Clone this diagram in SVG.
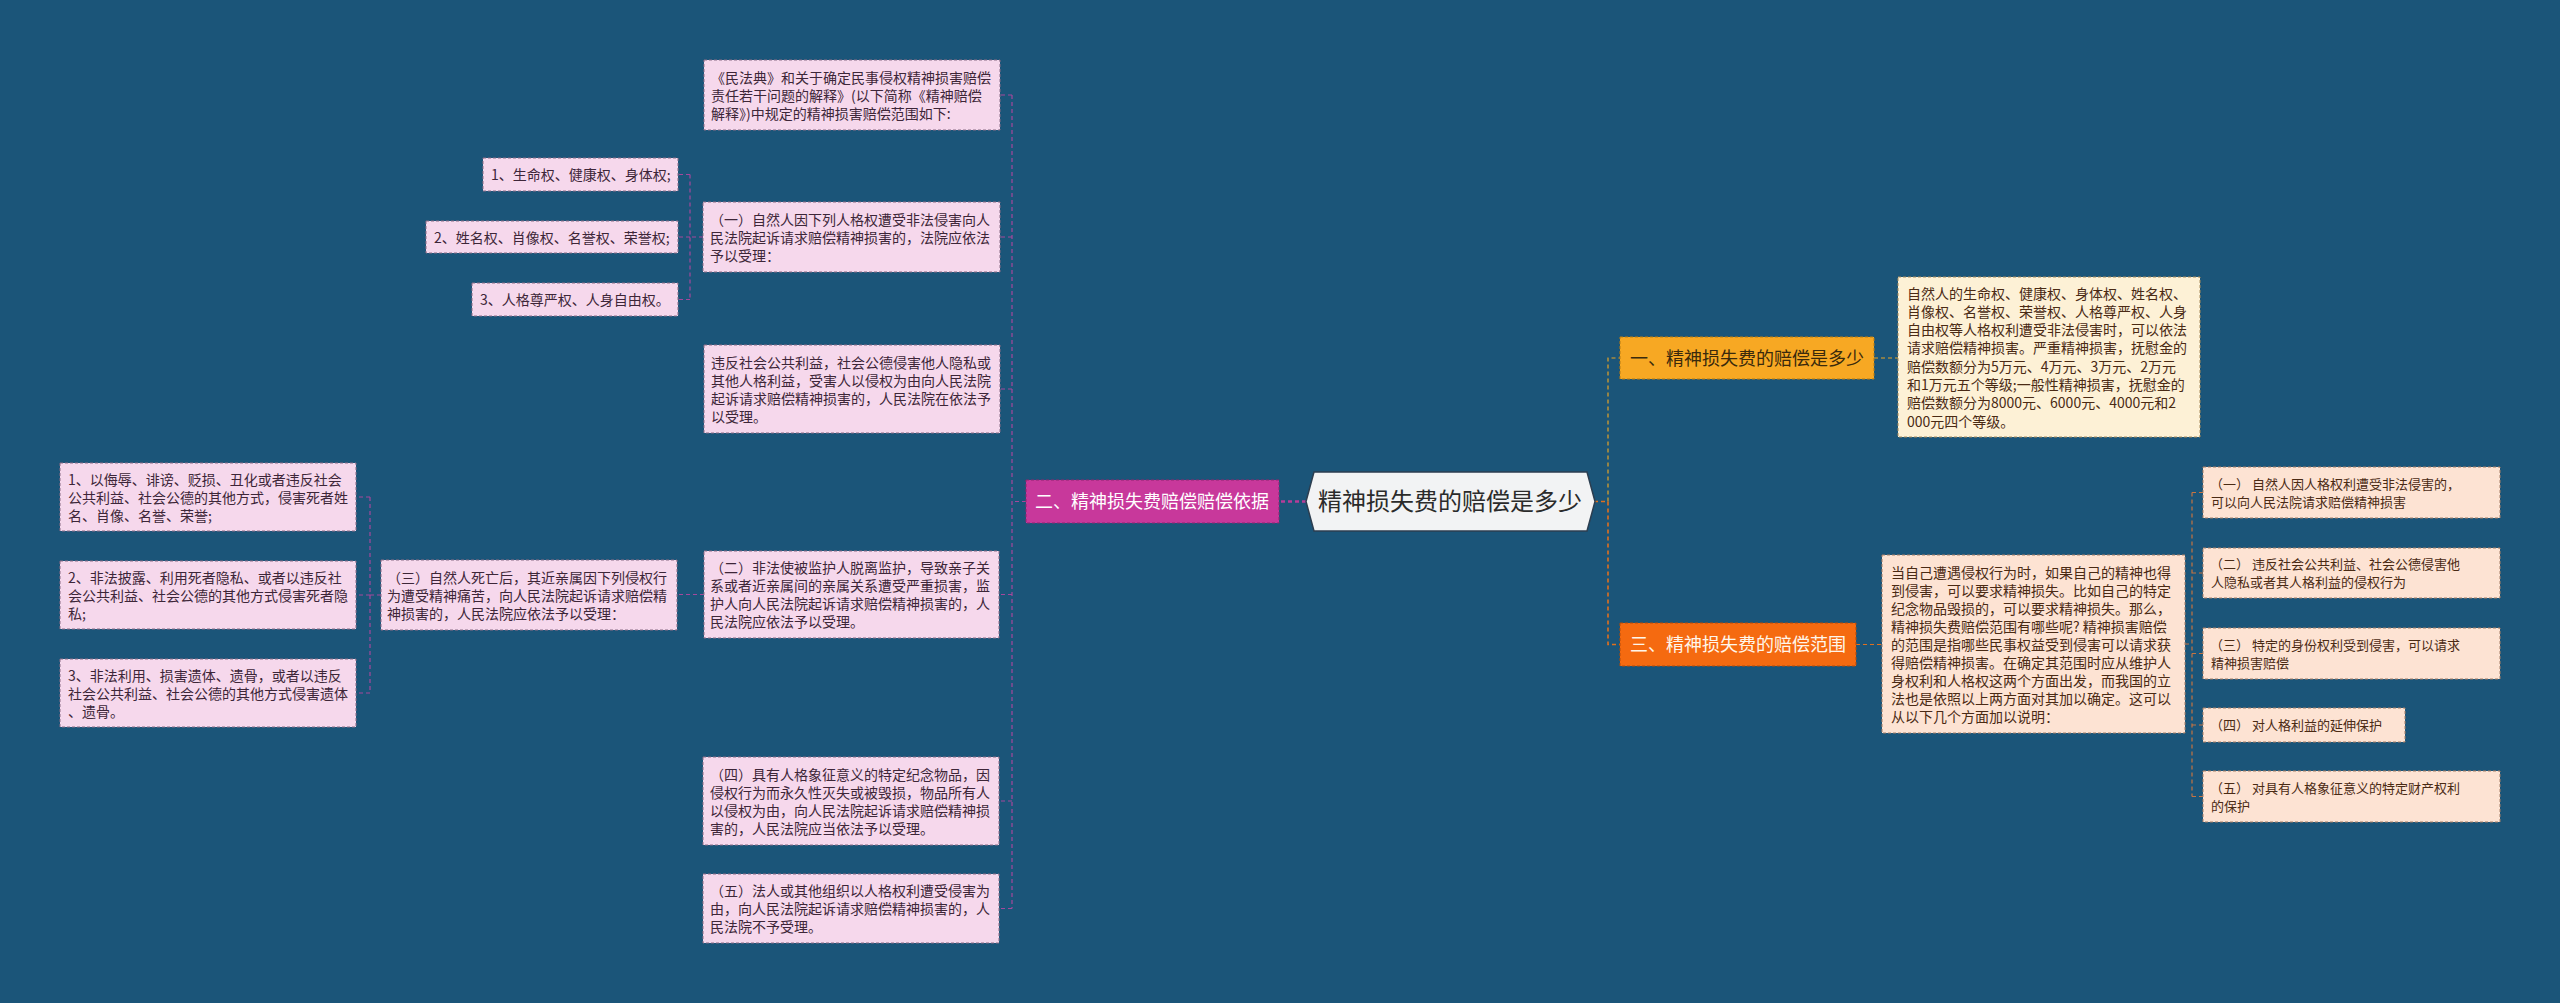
<svg xmlns="http://www.w3.org/2000/svg" width="2560" height="1003" viewBox="0 0 2560 1003">
<style>
text{font-family:"Noto Sans CJK SC","Noto Sans",sans-serif;}
.pk{fill:#f6d8ec;stroke:#8a6c86;stroke-width:1;stroke-dasharray:3 2;}
.cr{fill:#fdf1d6;stroke:#a88c5c;stroke-width:1;stroke-dasharray:3 2;}
.pc{fill:#fde3d3;stroke:#a67e66;stroke-width:1;stroke-dasharray:3 2;}
.tp{font-size:14px;fill:#3d2638;}
.tb{font-size:14px;fill:#4a2a14;}
.ti{font-size:13px;fill:#4a2a14;}
.lp{fill:none;stroke:#a5489c;stroke-width:1.2;stroke-dasharray:4 3;}
.la{fill:none;stroke:#e7a427;stroke-width:1.2;stroke-dasharray:4 3;}
.lo{fill:none;stroke:#e0701e;stroke-width:1.2;stroke-dasharray:4 3;}
.lb{fill:none;stroke:#c57442;stroke-width:1.2;stroke-dasharray:4 3;}
</style>
<rect x="0" y="0" width="2560" height="1003" fill="#1b5579"/>
<g id="connectors">
<path class="lp" d="M1306,501.5 H1279" style="stroke-width:2.5;stroke:#b53d99"/>
<path class="lp" d="M1026,501.5 H1012 M1012,95 V908.5 M1012,95 H1000 M1012,237 H1000 M1012,389 H1000 M1012,594.5 H677 M1012,801 H999 M1012,908.5 H999"/>
<path class="lp" d="M703,237 H690 M690,174.5 V299.5 M690,174.5 H678 M690,237 H678 M690,299.5 H678"/>
<path class="lp" d="M381,595 H370 M370,497 V693 M370,497 H356 M370,595 H356 M370,693 H356"/>
<path class="la" d="M1594,501.5 H1608 V358 H1620"/>
<path class="lo" d="M1594,501.5 H1608 V644.5 H1620" style="stroke-width:1.6"/>
<path class="la" d="M1874,358 H1898"/>
<path class="lo" d="M1856,644.5 H1882"/>
<path class="lb" d="M2185,644 H2192 M2192,492.5 V796.5 M2192,492.5 H2203 M2192,573 H2203 M2192,653.5 H2203 M2192,725 H2203 M2192,796.5 H2203"/>
</g>
<g id="center">
<polygon points="1306,501.5 1314,472 1587,472 1595,501.5 1587,531 1314,531" fill="#f2f3f4" stroke="#2c3e50" stroke-width="1.5"/>
<text x="1450" y="510" text-anchor="middle" style="font-size:24px;fill:#2b2b2b">精神损失费的赔偿是多少</text>
</g>
<g id="b2">
<rect x="1026" y="480" width="253" height="43" fill="#c8389b" stroke="#8f2570" stroke-dasharray="3 2"/>
<text x="1035" y="508" style="font-size:18px;fill:#ffffff">二、精神损失费赔偿赔偿依据</text>
</g>
<g id="b1">
<rect x="1620" y="337" width="254" height="42" fill="#f7a823" stroke="#b97c12" stroke-dasharray="3 2"/>
<text x="1630" y="364.5" style="font-size:18px;fill:#3a2a0c">一、精神损失费的赔偿是多少</text>
</g>
<g id="b3">
<rect x="1620" y="623" width="236" height="43" fill="#f56a10" stroke="#b54a08" stroke-dasharray="3 2"/>
<text x="1630" y="651" style="font-size:18px;fill:#fff6ea">三、精神损失费的赔偿范围</text>
</g>
<g id="n-top">
<rect class="pk" x="704" y="60" width="296" height="70"/>
<text class="tp" x="711" y="83"><tspan x="711">《民法典》和关于确定民事侵权精神损害赔偿</tspan><tspan x="711" dy="18">责任若干问题的解释》(以下简称《精神赔偿</tspan><tspan x="711" dy="18">解释》)中规定的精神损害赔偿范围如下:</tspan></text>
</g>
<g id="n-i1">
<rect class="pk" x="483" y="158" width="195" height="33"/>
<text class="tp" x="491" y="180">1、生命权、健康权、身体权;</text>
</g>
<g id="n-i2">
<rect class="pk" x="426" y="221" width="252" height="32"/>
<text class="tp" x="434" y="242.5">2、姓名权、肖像权、名誉权、荣誉权;</text>
</g>
<g id="n-i3">
<rect class="pk" x="472" y="283" width="206" height="33"/>
<text class="tp" x="480" y="305">3、人格尊严权、人身自由权。</text>
</g>
<g id="n-1">
<rect class="pk" x="703" y="202" width="297" height="70"/>
<text class="tp" x="710" y="224.5"><tspan x="710">（一）自然人因下列人格权遭受非法侵害向人</tspan><tspan x="710" dy="18">民法院起诉请求赔偿精神损害的，法院应依法</tspan><tspan x="710" dy="18">予以受理：</tspan></text>
</g>
<g id="n-v">
<rect class="pk" x="704" y="345" width="296" height="88"/>
<text class="tp" x="711" y="367.5"><tspan x="711">违反社会公共利益，社会公德侵害他人隐私或</tspan><tspan x="711" dy="18">其他人格利益，受害人以侵权为由向人民法院</tspan><tspan x="711" dy="18">起诉请求赔偿精神损害的，人民法院在依法予</tspan><tspan x="711" dy="18">以受理。</tspan></text>
</g>
<g id="n-l1">
<rect class="pk" x="60" y="463" width="296" height="68"/>
<text class="tp" x="68" y="484.5"><tspan x="68">1、以侮辱、诽谤、贬损、丑化或者违反社会</tspan><tspan x="68" dy="18">公共利益、社会公德的其他方式，侵害死者姓</tspan><tspan x="68" dy="18">名、肖像、名誉、荣誉;</tspan></text>
</g>
<g id="n-l2">
<rect class="pk" x="60" y="561" width="296" height="68"/>
<text class="tp" x="68" y="582.5"><tspan x="68">2、非法披露、利用死者隐私、或者以违反社</tspan><tspan x="68" dy="18">会公共利益、社会公德的其他方式侵害死者隐</tspan><tspan x="68" dy="18">私;</tspan></text>
</g>
<g id="n-l3">
<rect class="pk" x="60" y="659" width="296" height="68"/>
<text class="tp" x="68" y="680.5"><tspan x="68">3、非法利用、损害遗体、遗骨，或者以违反</tspan><tspan x="68" dy="18">社会公共利益、社会公德的其他方式侵害遗体</tspan><tspan x="68" dy="18">、遗骨。</tspan></text>
</g>
<g id="n-3">
<rect class="pk" x="381" y="560" width="296" height="70"/>
<text class="tp" x="387" y="582.5"><tspan x="387">（三）自然人死亡后，其近亲属因下列侵权行</tspan><tspan x="387" dy="18">为遭受精神痛苦，向人民法院起诉请求赔偿精</tspan><tspan x="387" dy="18">神损害的，人民法院应依法予以受理：</tspan></text>
</g>
<g id="n-2">
<rect class="pk" x="704" y="551" width="295" height="87"/>
<text class="tp" x="710" y="573"><tspan x="710">（二）非法使被监护人脱离监护，导致亲子关</tspan><tspan x="710" dy="18">系或者近亲属间的亲属关系遭受严重损害，监</tspan><tspan x="710" dy="18">护人向人民法院起诉请求赔偿精神损害的，人</tspan><tspan x="710" dy="18">民法院应依法予以受理。</tspan></text>
</g>
<g id="n-4">
<rect class="pk" x="703" y="757" width="296" height="88"/>
<text class="tp" x="710" y="779.5"><tspan x="710">（四）具有人格象征意义的特定纪念物品，因</tspan><tspan x="710" dy="18">侵权行为而永久性灭失或被毁损，物品所有人</tspan><tspan x="710" dy="18">以侵权为由，向人民法院起诉请求赔偿精神损</tspan><tspan x="710" dy="18">害的，人民法院应当依法予以受理。</tspan></text>
</g>
<g id="n-5">
<rect class="pk" x="703" y="874" width="296" height="69"/>
<text class="tp" x="710" y="896"><tspan x="710">（五）法人或其他组织以人格权利遭受侵害为</tspan><tspan x="710" dy="18">由，向人民法院起诉请求赔偿精神损害的，人</tspan><tspan x="710" dy="18">民法院不予受理。</tspan></text>
</g>
<g id="r-text">
<rect class="cr" x="1898" y="277" width="302" height="160"/>
<text class="tb" x="1907" y="298.5"><tspan x="1907">自然人的生命权、健康权、身体权、姓名权、</tspan><tspan x="1907" dy="18.3">肖像权、名誉权、荣誉权、人格尊严权、人身</tspan><tspan x="1907" dy="18.3">自由权等人格权利遭受非法侵害时，可以依法</tspan><tspan x="1907" dy="18.3">请求赔偿精神损害。严重精神损害，抚慰金的</tspan><tspan x="1907" dy="18.3">赔偿数额分为5万元、4万元、3万元、2万元</tspan><tspan x="1907" dy="18.3">和1万元五个等级;一般性精神损害，抚慰金的</tspan><tspan x="1907" dy="18.3">赔偿数额分为8000元、6000元、4000元和2</tspan><tspan x="1907" dy="18.3">000元四个等级。</tspan></text>
</g>
<g id="r-bottom">
<rect class="pc" x="1882" y="555" width="303" height="178"/>
<text class="tb" x="1891" y="577.5"><tspan x="1891">当自己遭遇侵权行为时，如果自己的精神也得</tspan><tspan x="1891" dy="18">到侵害，可以要求精神损失。比如自己的特定</tspan><tspan x="1891" dy="18">纪念物品毁损的，可以要求精神损失。那么，</tspan><tspan x="1891" dy="18">精神损失费赔偿范围有哪些呢? 精神损害赔偿</tspan><tspan x="1891" dy="18">的范围是指哪些民事权益受到侵害可以请求获</tspan><tspan x="1891" dy="18">得赔偿精神损害。在确定其范围时应从维护人</tspan><tspan x="1891" dy="18">身权利和人格权这两个方面出发，而我国的立</tspan><tspan x="1891" dy="18">法也是依照以上两方面对其加以确定。这可以</tspan><tspan x="1891" dy="18">从以下几个方面加以说明：</tspan></text>
</g>
<g id="r-1">
<rect class="pc" x="2203" y="467" width="297" height="51"/>
<text class="ti" x="2210" y="488.5"><tspan x="2210">（一） 自然人因人格权利遭受非法侵害的，</tspan><tspan x="2211" dy="18">可以向人民法院请求赔偿精神损害</tspan></text>
</g>
<g id="r-2">
<rect class="pc" x="2203" y="548" width="297" height="50"/>
<text class="ti" x="2210" y="569"><tspan x="2210">（二） 违反社会公共利益、社会公德侵害他</tspan><tspan x="2211" dy="18">人隐私或者其人格利益的侵权行为</tspan></text>
</g>
<g id="r-3">
<rect class="pc" x="2203" y="628" width="297" height="51"/>
<text class="ti" x="2210" y="649.5"><tspan x="2210">（三） 特定的身份权利受到侵害，可以请求</tspan><tspan x="2211" dy="18">精神损害赔偿</tspan></text>
</g>
<g id="r-4">
<rect class="pc" x="2203" y="708" width="202" height="34"/>
<text class="ti" x="2210" y="730">（四） 对人格利益的延伸保护</text>
</g>
<g id="r-5">
<rect class="pc" x="2203" y="771" width="297" height="51"/>
<text class="ti" x="2210" y="792.5"><tspan x="2210">（五） 对具有人格象征意义的特定财产权利</tspan><tspan x="2211" dy="18">的保护</tspan></text>
</g>
</svg>
